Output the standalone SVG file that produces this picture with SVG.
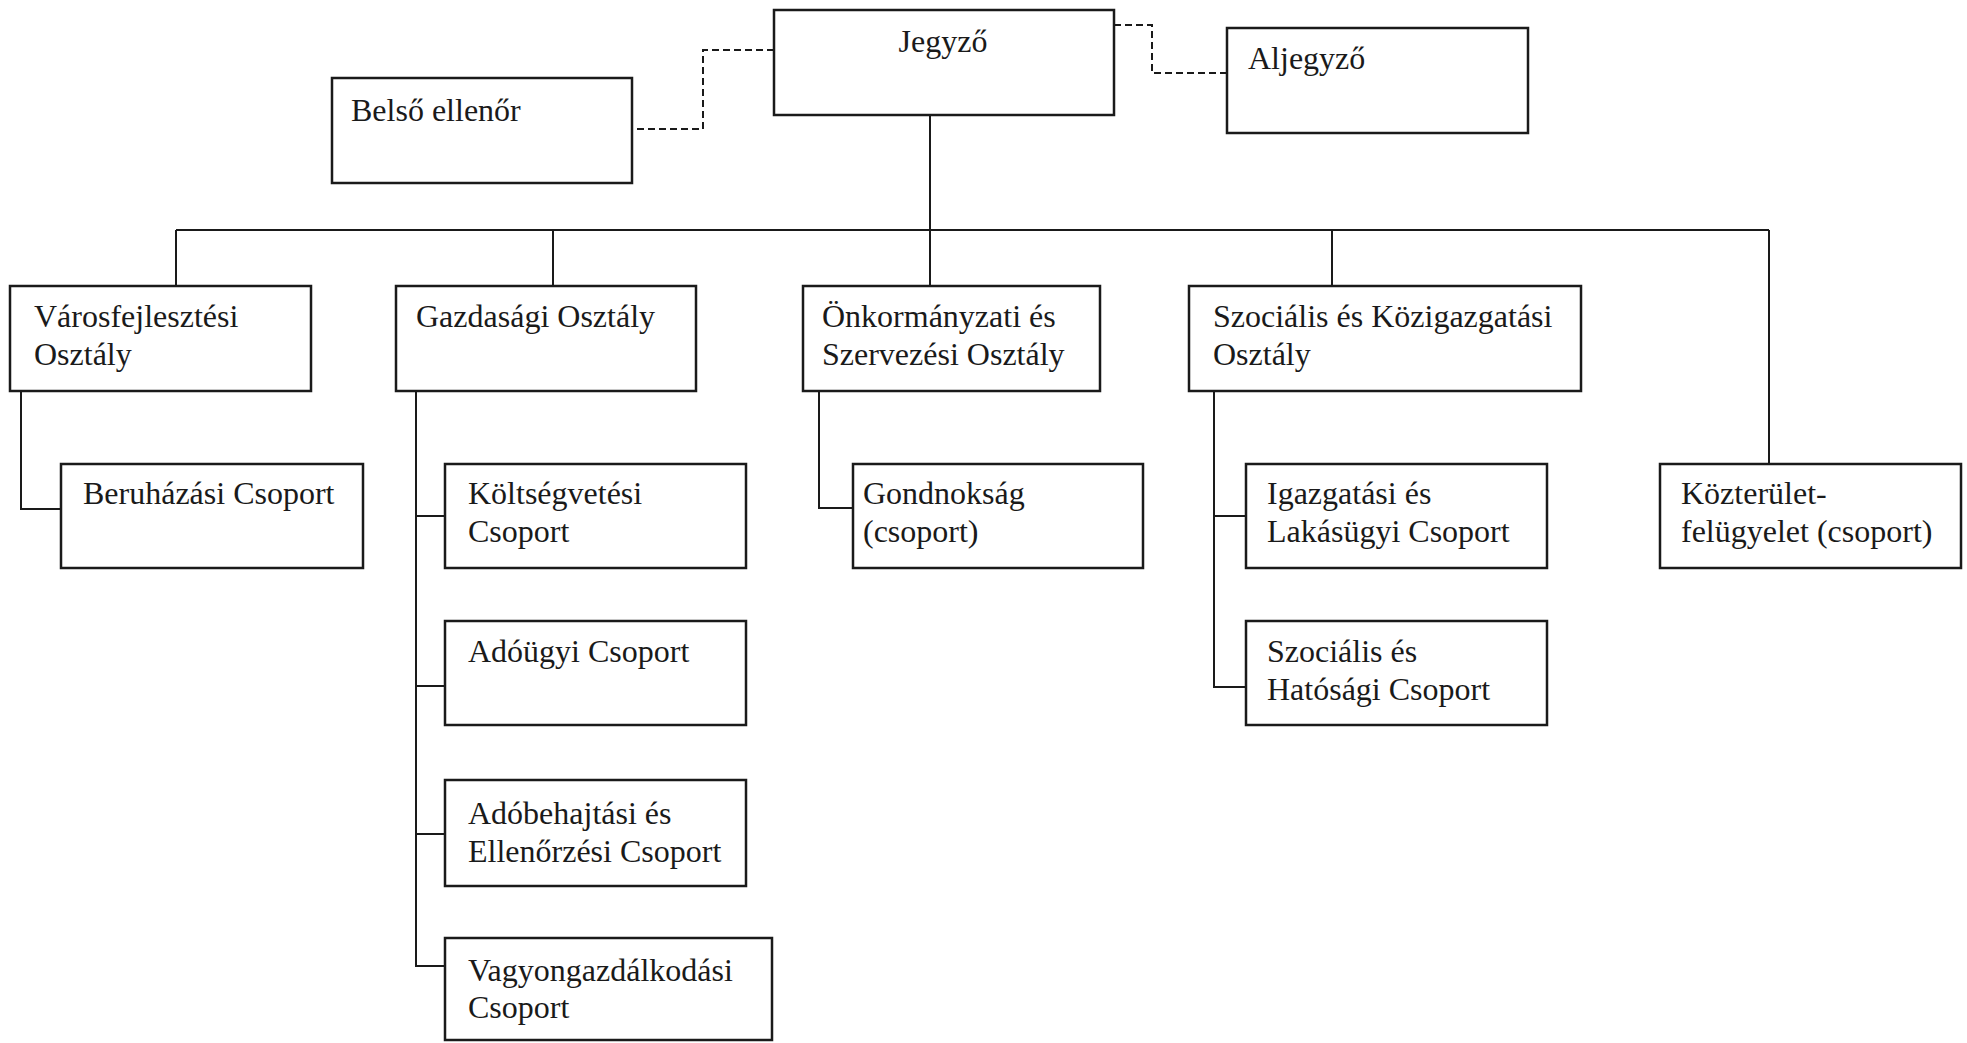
<svg xmlns="http://www.w3.org/2000/svg" width="1967" height="1043" viewBox="0 0 1967 1043">
<style>
.box{fill:#fff;stroke:#1a1a1a;stroke-width:2.5}
.t{font-family:"Liberation Serif","Times New Roman",serif;font-size:32px;fill:#1a1a1a}
.ln{fill:none;stroke:#1a1a1a;stroke-width:2}
.dash{fill:none;stroke:#1a1a1a;stroke-width:2;stroke-dasharray:7,4}
</style>
<rect width="1967" height="1043" fill="#fff"/>
<g id="connectors">
<path class="dash" d="M774,50 H703 V129 H632"/>
<path class="dash" d="M1114,25 H1152 V73 H1227"/>
<path class="ln" d="M930,115 V230"/>
<path class="ln" d="M176,230 H1769"/>
<path class="ln" d="M176,230 V286"/>
<path class="ln" d="M553,230 V286"/>
<path class="ln" d="M930,230 V286"/>
<path class="ln" d="M1332,230 V286"/>
<path class="ln" d="M1769,230 V464"/>
<path class="ln" d="M21,391 V509 H61"/>
<path class="ln" d="M416,391 V966 H445"/>
<path class="ln" d="M416,516 H445"/>
<path class="ln" d="M416,686 H445"/>
<path class="ln" d="M416,834 H445"/>
<path class="ln" d="M819,391 V508 H853"/>
<path class="ln" d="M1214,391 V687 H1246"/>
<path class="ln" d="M1214,516 H1246"/>
</g>
<g id="jegyzo"><rect class="box" x="774" y="10" width="340" height="105"/><text class="t" x="943" y="52" text-anchor="middle">Jegyző</text></g>
<g id="belso-ellenor"><rect class="box" x="332" y="78" width="300" height="105"/><text class="t" x="351" y="121">Belső ellenőr</text></g>
<g id="aljegyzo"><rect class="box" x="1227" y="28" width="301" height="105"/><text class="t" x="1248" y="69">Aljegyző</text></g>
<g id="varosfejlesztesi"><rect class="box" x="10" y="286" width="301" height="105"/><text class="t" x="34" y="327">Városfejlesztési</text><text class="t" x="34" y="365">Osztály</text></g>
<g id="gazdasagi"><rect class="box" x="396" y="286" width="300" height="105"/><text class="t" x="416" y="327">Gazdasági Osztály</text></g>
<g id="onkormanyzati"><rect class="box" x="803" y="286" width="297" height="105"/><text class="t" x="822" y="327">Önkormányzati és</text><text class="t" x="822" y="365">Szervezési Osztály</text></g>
<g id="szocialis-kozig"><rect class="box" x="1189" y="286" width="392" height="105"/><text class="t" x="1213" y="327">Szociális és Közigazgatási</text><text class="t" x="1213" y="365">Osztály</text></g>
<g id="beruhazasi"><rect class="box" x="61" y="464" width="302" height="104"/><text class="t" x="83" y="504">Beruházási Csoport</text></g>
<g id="koltsegvetesi"><rect class="box" x="445" y="464" width="301" height="104"/><text class="t" x="468" y="504">Költségvetési</text><text class="t" x="468" y="542">Csoport</text></g>
<g id="adougyi"><rect class="box" x="445" y="621" width="301" height="104"/><text class="t" x="468" y="662">Adóügyi Csoport</text></g>
<g id="adobehajtasi"><rect class="box" x="445" y="780" width="301" height="106"/><text class="t" x="468" y="824">Adóbehajtási és</text><text class="t" x="468" y="862">Ellenőrzési Csoport</text></g>
<g id="vagyongazdalkodasi"><rect class="box" x="445" y="938" width="327" height="102"/><text class="t" x="468" y="981">Vagyongazdálkodási</text><text class="t" x="468" y="1018">Csoport</text></g>
<g id="gondnoksag"><rect class="box" x="853" y="464" width="290" height="104"/><text class="t" x="863" y="504">Gondnokság</text><text class="t" x="863" y="542">(csoport)</text></g>
<g id="igazgatasi"><rect class="box" x="1246" y="464" width="301" height="104"/><text class="t" x="1267" y="504">Igazgatási és</text><text class="t" x="1267" y="542">Lakásügyi Csoport</text></g>
<g id="szocialis-hatosagi"><rect class="box" x="1246" y="621" width="301" height="104"/><text class="t" x="1267" y="662">Szociális és</text><text class="t" x="1267" y="700">Hatósági Csoport</text></g>
<g id="kozterulet"><rect class="box" x="1660" y="464" width="301" height="104"/><text class="t" x="1681" y="504">Közterület-</text><text class="t" x="1681" y="542">felügyelet (csoport)</text></g>
</svg>
